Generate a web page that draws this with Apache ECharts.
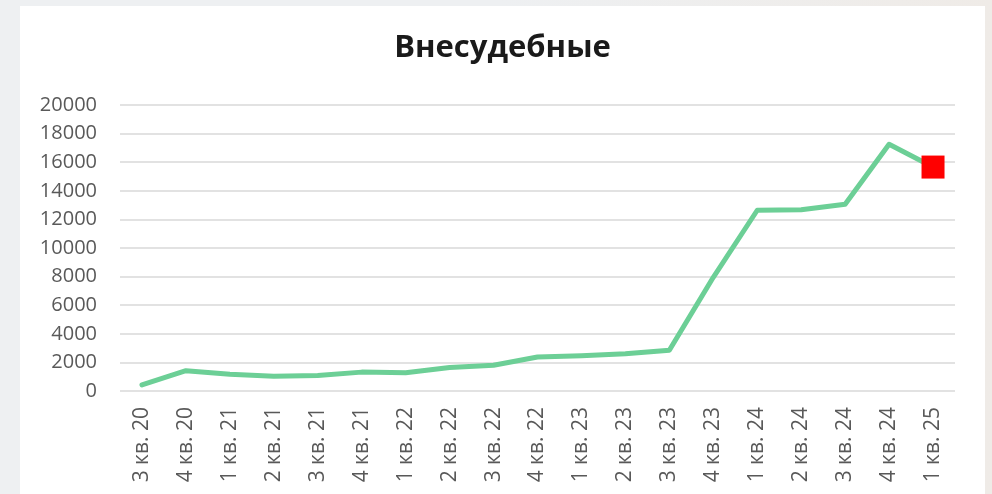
<!DOCTYPE html>
<html>
<head>
<meta charset="utf-8">
<script src="https://cdn.jsdelivr.net/npm/echarts@6/dist/echarts.min.js"></script>
<style>
  html, body { margin: 0; padding: 0; }
  body { width: 992px; height: 494px; background: linear-gradient(to right, #eef0f2 0px, #eef0f2 500px, #efebe7 992px); position: relative; overflow: hidden; }
  #chart { position: absolute; left: 20px; top: 6px; width: 965px; height: 488px; background: #ffffff; }
</style>
</head>
<body>
<div id="chart"></div>
<script>
const title = 'Внесудебные';
const categories = [
  '3 кв. 20', '4 кв. 20',
  '1 кв. 21', '2 кв. 21', '3 кв. 21', '4 кв. 21',
  '1 кв. 22', '2 кв. 22', '3 кв. 22', '4 кв. 22',
  '1 кв. 23', '2 кв. 23', '3 кв. 23', '4 кв. 23',
  '1 кв. 24', '2 кв. 24', '3 кв. 24', '4 кв. 24',
  '1 кв. 25'
];
const values = [
  420, 1420,
  1170, 1040, 1080, 1320,
  1280, 1640, 1800, 2380,
  2460, 2600, 2850, 7950,
  12640, 12680, 13060, 17250,
  15660
];
const yTicks = { min: 0, max: 20000, interval: 2000 };

const chart = echarts.init(document.getElementById('chart'));
const lastIdx = values.length - 1;
const seriesData = values.map((v, i) => i === lastIdx
  ? { value: v, symbol: 'rect', symbolSize: 23, itemStyle: { color: '#ff0000' } }
  : v);

chart.setOption({
  animation: false,
  title: {
    text: title,
    left: 'center',
    top: 22,
    textStyle: { fontFamily: 'Open Sans', fontWeight: 'bold', fontSize: 31, color: '#1a1a1a' }
  },
  grid: { left: 100, right: 30, top: 99, bottom: 103 },
  xAxis: {
    type: 'category',
    data: categories,
    boundaryGap: true,
    axisLine: { show: false },
    axisTick: { show: false },
    axisLabel: {
      rotate: 90, margin: 16, interval: 0,
      fontFamily: 'Open Sans', fontSize: 21, color: '#595959'
    }
  },
  yAxis: {
    type: 'value',
    min: yTicks.min, max: yTicks.max, interval: yTicks.interval,
    axisLine: { show: false },
    axisTick: { show: false },
    axisLabel: {
      margin: 23, fontFamily: 'Open Sans', fontSize: 20, color: '#595959',
      formatter: (v) => String(v)
    },
    splitLine: { lineStyle: { color: '#d9d9d9', width: 1.5 } }
  },
  series: [{
    type: 'line',
    data: seriesData,
    symbol: 'none',
    showAllSymbol: true,
    lineStyle: { color: '#6ccf96', width: 5, join: 'round', cap: 'round' },
    itemStyle: { color: '#6ccf96' }
  }]
});
</script>
</body>
</html>
